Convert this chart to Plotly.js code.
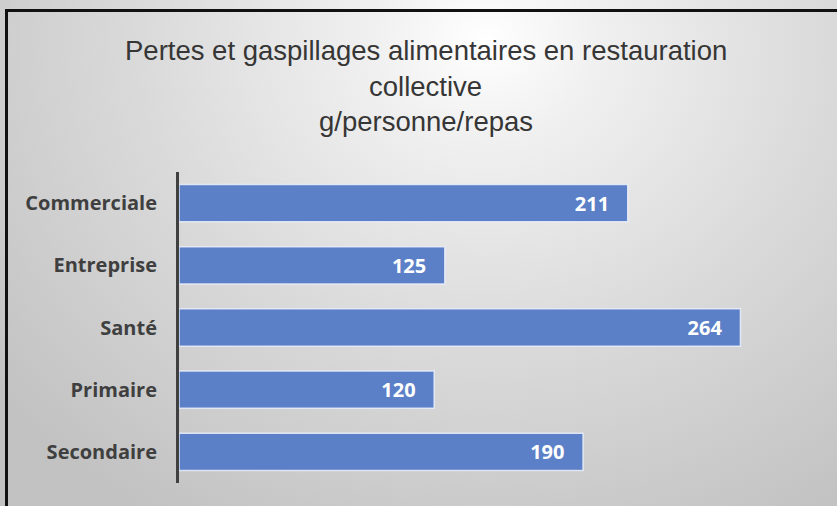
<!DOCTYPE html>
<html><head><meta charset="utf-8">
<script src="https://cdn.plot.ly/plotly-3.0.1.min.js"></script>
<style>
html,body{margin:0;padding:0;width:837px;height:506px;overflow:hidden;}
#wrap{position:absolute;left:0;top:0;width:837px;height:506px;
 background:radial-gradient(ellipse 75% 110% at 58% 8%, #ffffff 0%, #f0f0f0 18%, #dadada 55%, #c2c2c2 100%);}
#frame{position:absolute;left:5px;top:9px;width:900px;height:600px;border-left:3px solid #111;border-top:3px solid #111;box-sizing:border-box;}
#chart{position:absolute;left:0;top:0;width:837px;height:506px;}
</style></head>
<body><div id="wrap"></div><div id="frame"></div><div id="chart"></div>
<script>
const categories = ["Commerciale", "Entreprise", "Santé", "Primaire", "Secondaire"];
const values = [211, 125, 264, 120, 190];
const titleLines = ["Pertes et gaspillages alimentaires en restauration", "collective", "g/personne/repas"];
const titleY = [1.392, 1.2765, 1.1608];

const trace = {
  type: 'bar', orientation: 'h',
  x: values, y: categories,
  marker: {color: '#5b80c8', line: {color: 'rgba(235,240,250,0.85)', width: 1.5}},
  text: values.map(v => String(v)),
  texttemplate: '%{text}\u00a0\u00a0\u00a0',
  textposition: 'inside', insidetextanchor: 'end',
  insidetextfont: {family: 'Open Sans, sans-serif', size: 20, color: '#ffffff', weight: 'bold'},
  constraintext: 'none',
  hoverinfo: 'none', cliponaxis: false
};
const layout = {
  width: 837, height: 506,
  paper_bgcolor: 'rgba(0,0,0,0)', plot_bgcolor: 'rgba(0,0,0,0)',
  margin: {l: 179, r: 20, t: 172, b: 23},
  bargap: 0.4,
  showlegend: false,
  annotations: titleLines.map((t, i) => ({
    text: t, xref: 'paper', yref: 'paper', x: 0.3865, y: titleY[i],
    xanchor: 'center', yanchor: 'middle', showarrow: false,
    font: {family: 'Liberation Sans, Arial, sans-serif', size: 27.5, color: '#363636'}
  })),
  xaxis: {range: [0, 300], showgrid: false, zeroline: false, showline: false, showticklabels: false, ticks: '', fixedrange: true},
  yaxis: {autorange: 'reversed', showline: true, linecolor: '#404040', linewidth: 3, ticks: '',
    ticklabelstandoff: 15, showgrid: false, zeroline: false,
    tickfont: {family: 'Open Sans, sans-serif', size: 20, color: '#3f3f3f', weight: 'bold'}, fixedrange: true}
};
Plotly.newPlot('chart', [trace], layout, {displayModeBar: false, staticPlot: true});
</script></body></html>
